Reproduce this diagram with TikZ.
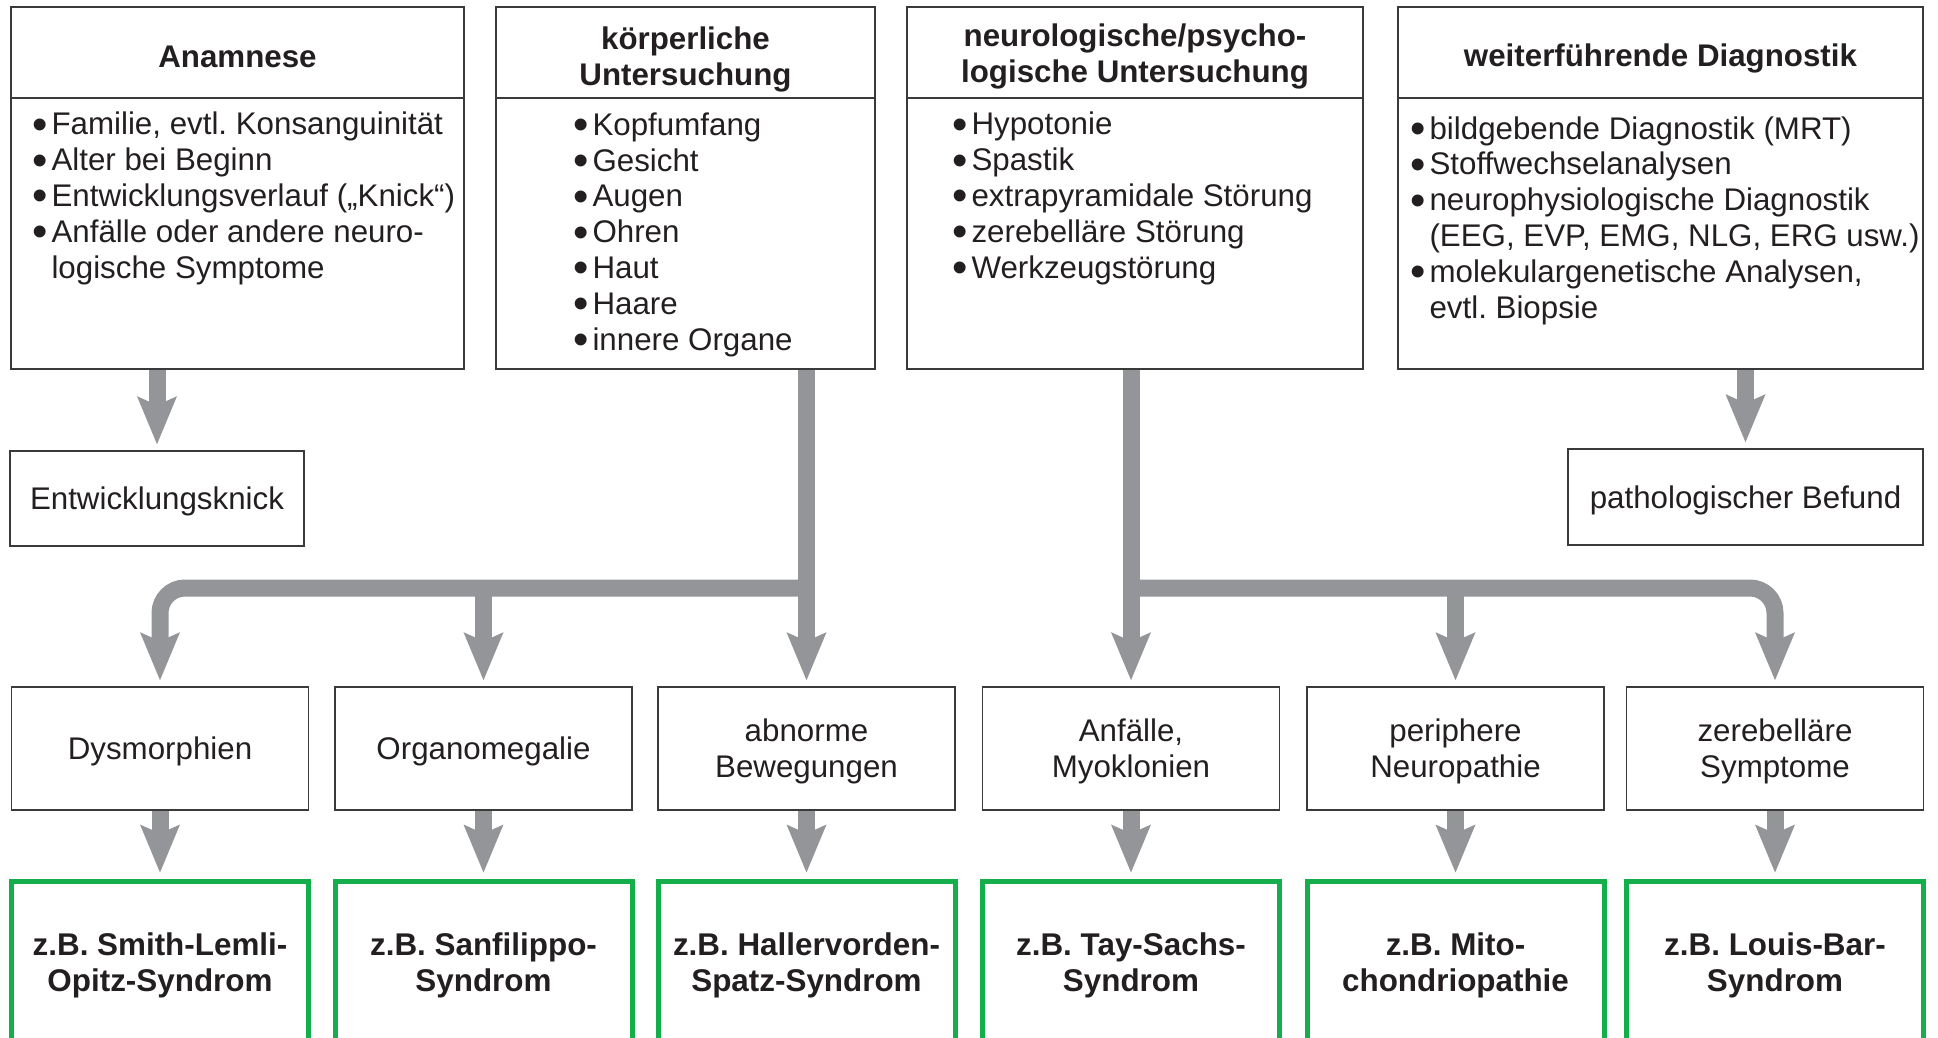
\documentclass[tikz,border=0pt]{standalone}
\usepackage{fontspec}
\setmainfont{Liberation Sans}
\usepackage{graphicx}
\usepackage{xcolor}
\definecolor{ggray}{HTML}{939598}
\definecolor{ggreen}{HTML}{14AE4B}
\definecolor{ddark}{HTML}{3A3A3A}
\definecolor{ttext}{HTML}{231F20}
\usepackage{tikz}
\usetikzlibrary{arrows.meta}
\newcommand{\bitem}{\raisebox{-4.5pt}{\scalebox{1.4}{\textbullet}}\hspace{4pt}}
\newcommand{\bcont}{\hphantom{\scalebox{1.4}{\textbullet}}\hspace{4pt}}
\frenchspacing

\begin{document}
\begin{tikzpicture}[x=1pt,y=-1pt,
		every node/.style={inner sep=0pt,text=ttext,font=\fontsize{31.3}{35.8}\selectfont},
		kasten/.style={draw=ddark,line width=1.6pt,minimum width=#1,text depth=0pt},
		kopf/.style={font=\fontsize{31.3}{36}\selectfont\bfseries,align=center,anchor=base},
		liste/.style={align=left,anchor=base west},
		symp/.style={draw=ddark,line width=1.6pt,minimum width=297pt,minimum height=123pt,align=center,text depth=0pt},
		synd/.style={draw=ggreen,line width=5pt,minimum width=297pt,minimum height=169pt,align=center,font=\fontsize{31.4}{36.5}\selectfont\bfseries},
		pfeil/.style={draw=ggray,line width=17pt,shorten >=6pt,-{Stealth[width=40pt,length=48pt,inset=9pt,line width=0pt]}}]
				\useasboundingbox (0,0) rectangle (1938,1037);
				\clip (0,0) rectangle (1938,1037);
				\node[kasten=453pt,minimum height=362pt] (t0) at (237.5,188) {};
				\node[kasten=379pt,minimum height=362pt] (t1) at (685.5,188) {};
				\node[kasten=456pt,minimum height=362pt] (t2) at (1135,188) {};
				\node[kasten=525pt,minimum height=362pt] (t3) at (1660.5,188) {};
				\coordinate (kl) at (0,98);
				\foreach \n in {t0,t1,t2,t3}
					\draw[ddark,line width=1.6pt] (\n.west |- kl) -- (\n.east |- kl);
				\node[kopf] (t0k) at (237.5,67) {Anamnese};
				\node[kopf] (t1k) at (685.5,85) {körperliche\\Untersuchung};
				\node[kopf] (t2k) at (1135,82) {neurologische/psycho-\\logische Untersuchung};
				\node[kopf] (t3k) at (1660.5,66) {weiterführende Diagnostik};
				\node[liste] (t0l) at (32,278) {\bitem Familie, evtl. Konsanguinität\\ \bitem Alter bei Beginn\\ \bitem Entwicklungsverlauf („Knick“)\\ \bitem Anfälle oder andere neuro-\\ \bcont logische Symptome};
				\node[liste] (t1l) at (573,350) {\bitem Kopfumfang\\ \bitem Gesicht\\ \bitem Augen\\ \bitem Ohren\\ \bitem Haut\\ \bitem Haare\\ \bitem innere Organe};
				\node[liste] (t2l) at (952,278) {\bitem Hypotonie\\ \bitem Spastik\\ \bitem extrapyramidale Störung\\ \bitem zerebelläre Störung\\ \bitem Werkzeugstörung};
				\node[liste] (t3l) at (1410,318) {\bitem bildgebende Diagnostik (MRT)\\ \bitem Stoffwechselanalysen\\ \bitem neurophysiologische Diagnostik\\ \bcont (EEG, EVP, EMG, NLG, ERG usw.)\\ \bitem molekulargenetische Analysen,\\ \bcont evtl. Biopsie};
				\node[kasten=294pt,minimum height=95pt] (b0) at (157,498.5) {Entwicklungsknick};
				\node[kasten=355pt,minimum height=96pt] (b1) at (1745.5,497) {pathologischer Befund};
				\node[symp] (s0) at (160,748.5) {Dysmorphien};
				\node[symp] (s1) at (483.5,748.5) {Organomegalie};
				\node[symp] (s2) at (806.5,748.5) {abnorme\\Bewegungen};
				\node[symp] (s3) at (1131,748.5) {Anfälle,\\Myoklonien};
				\node[symp] (s4) at (1455.5,748.5) {periphere\\Neuropathie};
				\node[symp] (s5) at (1775,748.5) {zerebelläre\\Symptome};
				\node[synd] (z0) at (160,965.5) {z.B. Smith-Lemli-\\Opitz-Syndrom};
				\node[synd] (z1) at (483.5,965.5) {z.B. Sanfilippo-\\Syndrom};
				\node[synd] (z2) at (806.5,965.5) {z.B. Hallervorden-\\Spatz-Syndrom};
				\node[synd] (z3) at (1131,965.5) {z.B. Tay-Sachs-\\Syndrom};
				\node[synd] (z4) at (1455.5,965.5) {z.B. Mito-\\chondriopathie};
				\node[synd] (z5) at (1775,965.5) {z.B. Louis-Bar-\\Syndrom};
				\coordinate (bar) at (0,588);
				\draw[pfeil] (b0.north |- t0.south) -- (b0.north);
				\draw[pfeil] (b1.north |- t3.south) -- (b1.north);
				\draw[pfeil] (s2.north |- t1.south) -- (s2.north);
				\draw[pfeil] (s3.north |- t2.south) -- (s3.north);
				\draw[pfeil,rounded corners=25pt] (s2.north |- bar) -- (s0.north |- bar) -- (s0.north);
				\draw[pfeil] (s1.north |- bar) -- (s1.north);
				\draw[pfeil,rounded corners=25pt] (s3.north |- bar) -- (s5.north |- bar) -- (s5.north);
				\draw[pfeil] (s4.north |- bar) -- (s4.north);
				\foreach \i in {0,...,5}
					\draw[pfeil] (s\i) -- (z\i);
			\end{tikzpicture}
\end{document}
